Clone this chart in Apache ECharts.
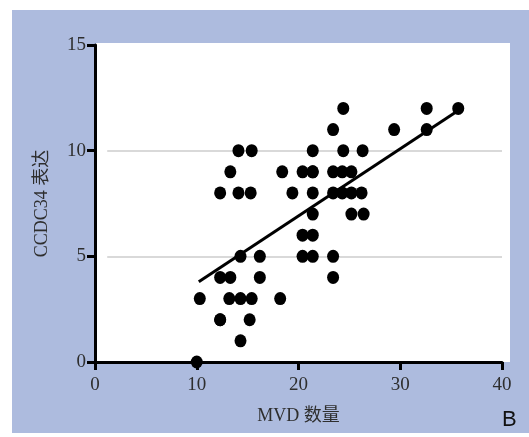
<!DOCTYPE html>
<html>
<head>
<meta charset="utf-8">
<script src="https://cdn.jsdelivr.net/npm/echarts@6/dist/echarts.min.js"></script>
<style>
  html, body { margin: 0; padding: 0; background: #fff; }
  #chart { width: 529px; height: 437px; }
</style>
</head>
<body>
<div id="chart"></div>
<script>
// MVD count vs CCDC34 expression
var mvd = [10, 10.3, 12.3, 12.3, 13.3, 13.2, 14.3, 15.4, 18.2, 12.3, 15.2, 14.3,
  14.3, 16.2, 16.2, 14.1, 15.4, 13.3, 12.3, 14.1, 15.3, 18.4, 19.4,
  20.4, 21.4, 20.4, 21.4, 20.4, 21.4, 21.4, 21.4, 21.4, 23.4, 23.4,
  23.4, 24.3, 25.2, 23.4, 24.3, 25.2, 26.2, 25.2, 26.4, 21.4, 24.4, 26.3,
  23.4, 24.4, 29.4, 32.6, 32.6, 35.7];
var ccdc34 = [0, 3, 2, 4, 4, 3, 3, 3, 3, 2, 2, 1,
  5, 5, 4, 10, 10, 9, 8, 8, 8, 9, 8,
  9, 9, 6, 6, 5, 5, 8, 7, 9, 5, 4,
  9, 9, 9, 8, 8, 8, 8, 7, 7, 10, 10, 10,
  11, 12, 11, 12, 11, 12];
// regression line ends
var fitX = [10.2, 35.7];
var fitY = [3.8, 11.9];
var gridValues = [5, 10];
var xTicks = [0, 10, 20, 30, 40];
var yTicks = [0, 5, 10, 15];

var points = mvd.map(function(v, i) { return [v, ccdc34[i]]; });
var fit = fitX.map(function(v, i) { return [v, fitY[i]]; });

var serif = '"Liberation Serif", "Noto Sans CJK SC", serif';
var labelColor = '#2e2e2e';

var chart = echarts.init(document.getElementById('chart'), null, { renderer: 'canvas' });
chart.setOption({
  animation: false,
  backgroundColor: '#ffffff',
  graphic: [
    { type: 'rect', z: -10, shape: { x: 12, y: 10, width: 517, height: 423 }, style: { fill: '#adbbde' } },
    { type: 'rect', z: -9, shape: { x: 96, y: 43, width: 414, height: 319 }, style: { fill: '#ffffff' } },
    { type: 'text', left: 502, top: 409, style: { text: 'B', fontSize: 22, fontFamily: '"Liberation Sans", Arial, sans-serif', fill: '#111' } }
  ],
  grid: { left: 95, right: 27, top: 45, bottom: 75 },
  xAxis: {
    type: 'value',
    min: xTicks[0],
    max: xTicks[xTicks.length - 1],
    interval: 10,
    name: 'MVD 数量',
    nameLocation: 'middle',
    nameGap: 45,
    nameTextStyle: { color: labelColor, fontSize: 18, fontFamily: serif },
    axisLine: { onZero: false, lineStyle: { color: '#000', width: 3 } },
    axisTick: { show: true, length: 8, lineStyle: { color: '#000', width: 3 } },
    axisLabel: { color: labelColor, fontSize: 19, fontFamily: serif, margin: 14 },
    splitLine: { show: false }
  },
  yAxis: {
    type: 'value',
    min: yTicks[0],
    max: yTicks[yTicks.length - 1],
    interval: 5,
    name: 'CCDC34 表达',
    nameLocation: 'middle',
    nameGap: 44,
    nameTextStyle: { color: labelColor, fontSize: 18, fontFamily: serif },
    axisLine: { onZero: false, lineStyle: { color: '#000', width: 3 } },
    axisTick: { show: true, length: 8, lineStyle: { color: '#000', width: 3 } },
    axisLabel: { color: labelColor, fontSize: 19, fontFamily: serif, margin: 9 },
    splitLine: { show: false }
  },
  series: [
    {
      type: 'line',
      data: fit,
      symbol: 'none',
      z: 3,
      lineStyle: { color: '#000', width: 3 },
      markLine: {
        silent: true,
        symbol: 'none',
        label: { show: false },
        lineStyle: { color: '#d9d9d9', width: 2, type: 'solid' },
        z: 1,
        data: gridValues.map(function(v) {
          return [{ coord: [1.2, v] }, { coord: [xTicks[xTicks.length - 1], v] }];
        })
      }
    },
    {
      type: 'scatter',
      data: points,
      symbol: 'circle',
      symbolSize: [12, 13],
      z: 4,
      itemStyle: { color: '#000', opacity: 1 }
    }
  ]
});
window.addEventListener('resize', function() { chart.resize(); });
</script>
</body>
</html>
